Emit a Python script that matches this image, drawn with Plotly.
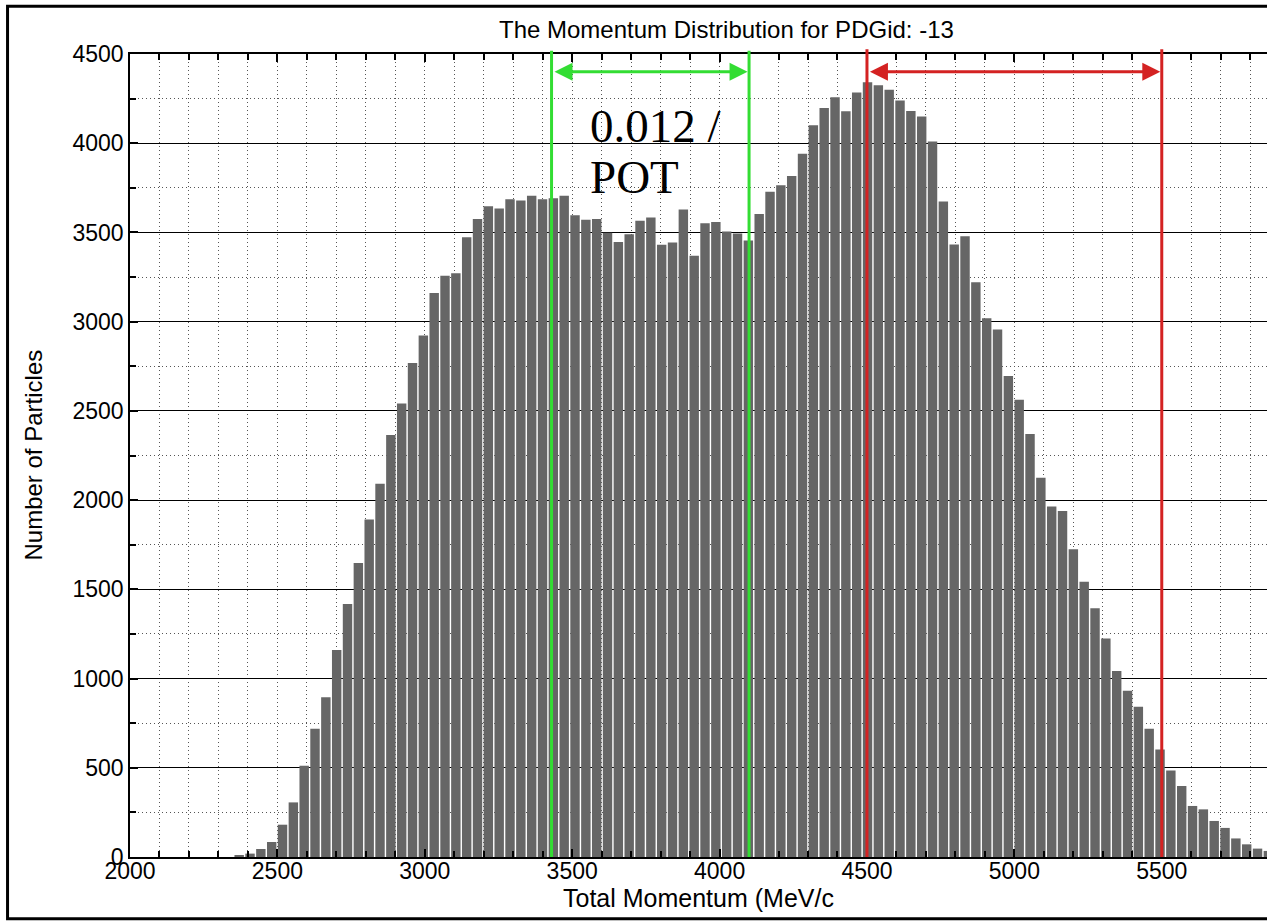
import plotly.graph_objects as go

# ---- data ----
bin_start = 2352.0      # left edge of first bin (MeV/c)
bin_width = 36.75       # bin width (MeV/c)
counts = [6, 19, 45, 84, 181, 306, 512, 719, 895, 1160,
          1418, 1648, 1892, 2092, 2365, 2541, 2769, 2922, 3161, 3258,
          3271, 3473, 3576, 3647, 3634, 3686, 3679, 3705, 3686, 3692,
          3705, 3597, 3571, 3576, 3498, 3447, 3490, 3565, 3584, 3431,
          3444, 3628, 3370, 3552, 3559, 3505, 3494, 3455, 3604, 3728,
          3765, 3817, 3941, 4101, 4198, 4257, 4179, 4284, 4342, 4325,
          4300, 4240, 4180, 4150, 4010, 3673, 3432, 3479, 3221, 3019,
          2956, 2696, 2562, 2371, 2126, 1964, 1939, 1725, 1542, 1394,
          1224, 1043, 932, 842, 719, 603, 485, 398, 286, 267,
          202, 163, 104, 71, 47, 34]

green_lines = [3430, 4100]
red_lines = [4500, 5500]
arrow_y = 4400
label_lines = ["0.012 /", "POT"]
label_x = 3552
label_y = [4098, 3812]

title_text = "The Momentum Distribution for PDGid: -13"
xlabel = "Total Momentum (MeV/c"
ylabel = "Number of Particles"

x_range = [2000, 5857]
y_range = [0, 4500]

GREEN = "#33dd33"
RED = "#d42222"
BAR = "#666666"
FONT = "Liberation Sans, Arial, sans-serif"

fig = go.Figure()
fig.add_trace(go.Bar(x0=bin_start + bin_width / 2, dx=bin_width, y=counts,
                     marker=dict(color=BAR, line=dict(width=0)),
                     showlegend=False, hoverinfo="skip"))

shapes = []
for xv in green_lines:
    shapes.append(dict(type="line", xref="x", yref="paper", x0=xv, x1=xv,
                       y0=0, y1=1.004, line=dict(color=GREEN, width=3), layer="above"))
for xv in red_lines:
    shapes.append(dict(type="line", xref="x", yref="paper", x0=xv, x1=xv,
                       y0=0, y1=1.006, line=dict(color=RED, width=3), layer="above"))
# outer frame (left, top, bottom)
shapes.append(dict(type="path", xref="paper", yref="paper",
                   path="M 1.02 1.0595 L -0.1077 1.0595 L -0.1077 -0.0768 L 1.02 -0.0768",
                   line=dict(color="black", width=3)))

annotations = [
    dict(x=green_lines[1] - 5, y=arrow_y, ax=green_lines[0] + 5, ay=arrow_y,
         xref="x", yref="y", axref="x", ayref="y", text="", showarrow=True,
         arrowhead=2, arrowside="end+start", arrowsize=1.2, arrowwidth=3,
         arrowcolor=GREEN),
    dict(x=red_lines[1] - 5, y=arrow_y, ax=red_lines[0] + 5, ay=arrow_y,
         xref="x", yref="y", axref="x", ayref="y", text="", showarrow=True,
         arrowhead=2, arrowside="end+start", arrowsize=1.2, arrowwidth=3,
         arrowcolor=RED),
    dict(x=(726 - 130) / 1137, y=(857.3 - 30) / 803, xref="paper", yref="paper",
         text=title_text, showarrow=False, xanchor="center", yanchor="middle",
         font=dict(family=FONT, size=24, color="black")),
    dict(x=(698 - 130) / 1137, y=(857.3 - 898) / 803, xref="paper", yref="paper",
         text=xlabel, showarrow=False, xanchor="center", yanchor="middle",
         font=dict(family=FONT, size=25, color="black")),
    dict(x=(33 - 130) / 1137, y=0.5, xref="paper", yref="paper",
         text=ylabel, textangle=-90, showarrow=False, xanchor="center", yanchor="middle",
         font=dict(family=FONT, size=24, color="black")),
]
for txt, yv in zip(label_lines, label_y):
    annotations.append(dict(x=label_x, y=yv, xref="x", yref="y", text=txt,
                            showarrow=False, xanchor="left", yanchor="middle",
                            font=dict(family="Liberation Serif, Times New Roman, serif",
                                      size=47, color="black")))

fig.update_layout(
    width=1267, height=923,
    margin=dict(l=130, r=0, t=54, b=66),
    paper_bgcolor="white", plot_bgcolor="white",
    bargap=0.13,
    font=dict(family=FONT, size=23, color="black"),
    shapes=shapes, annotations=annotations,
    xaxis=dict(range=x_range, tick0=2000, dtick=500, ticks="inside", ticklen=8,
               tickwidth=1.5, tickcolor="black", ticklabelstandoff=-7,
               showline=True, linecolor="black", linewidth=1.5, mirror="ticks",
               showgrid=True, gridcolor="#555", griddash="1px,3px", gridwidth=1,
               zeroline=False, tickfont=dict(size=23),
               minor=dict(dtick=100, ticks="inside", ticklen=6, tickcolor="black",
                          showgrid=True, gridcolor="#555", griddash="1px,3px",
                          gridwidth=1)),
    yaxis=dict(range=y_range, tick0=0, dtick=500, ticks="inside", ticklen=8,
               tickwidth=1.5, tickcolor="black",
               showline=True, linecolor="black", linewidth=1.5,
               showgrid=True, gridcolor="black", gridwidth=1.3,
               zeroline=False, tickfont=dict(size=23),
               minor=dict(dtick=250, ticks="inside", ticklen=6, tickcolor="black",
                          showgrid=True, gridcolor="#555", griddash="1px,3px",
                          gridwidth=1)),
)

fig.write_html("out.html")
